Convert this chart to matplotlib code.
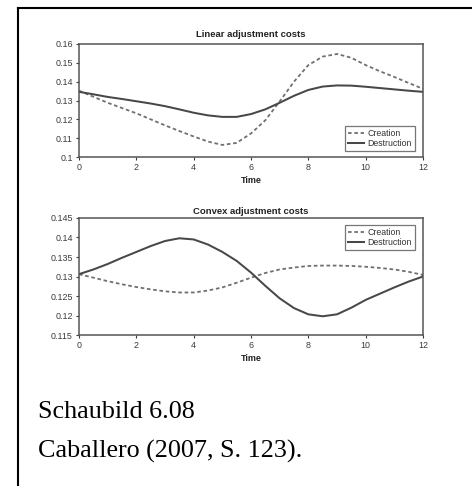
import numpy as np
import matplotlib
matplotlib.use("Agg")
import matplotlib.pyplot as plt
from matplotlib.lines import Line2D
from matplotlib.ticker import StrMethodFormatter, MultipleLocator

# time grid shared by both panels
time = np.arange(0, 12.01, 0.5)

# linear adjustment costs
lin_creation = [0.1352, 0.1320, 0.1288, 0.1260, 0.1232, 0.1200, 0.1168, 0.1138, 0.1109,
                0.1082, 0.1064, 0.1075, 0.1125, 0.1195, 0.1295, 0.1400, 0.1488, 0.1533,
                0.1547, 0.1527, 0.1488, 0.1455, 0.1425, 0.1393, 0.1362]
lin_destruction = [0.1346, 0.1333, 0.1319, 0.1308, 0.1296, 0.1284, 0.1270, 0.1253, 0.1235,
                   0.1221, 0.1213, 0.1213, 0.1228, 0.1253, 0.1288, 0.1325, 0.1356, 0.1374,
                   0.1380, 0.1379, 0.1373, 0.1366, 0.1359, 0.1352, 0.1346]

# convex adjustment costs
cvx_creation = [0.1306, 0.1297, 0.1288, 0.1280, 0.1273, 0.1267, 0.1262, 0.1259, 0.1259,
                0.1264, 0.1272, 0.1284, 0.1297, 0.1309, 0.1318, 0.1323, 0.1327, 0.1328,
                0.1328, 0.1327, 0.1325, 0.1322, 0.1318, 0.1312, 0.1304]
cvx_destruction = [0.1306, 0.1318, 0.1332, 0.1348, 0.1363, 0.1378, 0.1391, 0.1398, 0.1395,
                   0.1382, 0.1363, 0.1340, 0.1310, 0.1276, 0.1244, 0.1219, 0.1203, 0.1198,
                   0.1203, 0.1220, 0.1240, 0.1256, 0.1272, 0.1287, 0.1300]

W, H = 472, 486
fig = plt.figure(figsize=(W / 100, H / 100), dpi=100)
fig.patch.set_facecolor("white")

sans = "Liberation Sans"
ink = "#3a3a3a"


def panel(rect, title, creation, destruction, ylim, ystep, legend_loc, legend_anchor, title_pad):
    ax = fig.add_axes(rect)
    ax.plot(time, creation, color="#707070", lw=1.3, ls=(0, (2.0, 1.5)), label="Creation")
    ax.plot(time, destruction, color="#484848", lw=1.45, label="Destruction")
    ax.set_xlim(0, 12)
    ax.set_ylim(*ylim)
    ax.xaxis.set_major_locator(MultipleLocator(2))
    ax.yaxis.set_major_locator(MultipleLocator(ystep))
    ax.yaxis.set_major_formatter(StrMethodFormatter("{x:g}"))
    ax.tick_params(direction="out", length=2.5, width=0.8, colors=ink,
                   labelsize=6.4, pad=2)
    for lab in ax.get_xticklabels() + ax.get_yticklabels():
        lab.set_fontfamily(sans)
    for sp in ax.spines.values():
        sp.set_color("#555555")
        sp.set_linewidth(1.1)
    ax.set_title(title, fontsize=6.8, fontweight="bold", family=sans, color="#222222",
                 pad=title_pad)
    ax.set_xlabel("Time", fontsize=6.5, fontweight="bold", family=sans, color="#222222",
                  labelpad=3)
    leg = ax.legend(loc=legend_loc, bbox_to_anchor=legend_anchor,
                    prop={"family": sans, "size": 6.3}, frameon=True, fancybox=False,
                    handlelength=1.8, handletextpad=0.4, borderpad=0.35,
                    labelspacing=0.15, borderaxespad=0)
    leg.get_frame().set_edgecolor("#555555")
    leg.get_frame().set_linewidth(0.9)
    for t in leg.get_texts():
        t.set_color("#333333")
    return ax


panel([79 / W, 1 - 157 / H, 344 / W, 113 / H], "Linear adjustment costs",
      lin_creation, lin_destruction, (0.1, 0.16), 0.01,
      "lower right", (0.977, 0.053), 5)
panel([79 / W, 1 - 335 / H, 344 / W, 117 / H], "Convex adjustment costs",
      cvx_creation, cvx_destruction, (0.115, 0.145), 0.005,
      "upper right", (0.977, 0.94), 3)

# border of the figure box (top and left edges)
fig.add_artist(Line2D([17.5 / W, 1], [1 - 8.5 / H, 1 - 8.5 / H], color="black", lw=1.5,
                      transform=fig.transFigure))
fig.add_artist(Line2D([17.5 / W, 17.5 / W], [1 - 8.5 / H, 0], color="black", lw=1.5,
                      transform=fig.transFigure))

serif = "Liberation Serif"
fig.text(38 / W, 1 - 418 / H, "Schaubild 6.08", fontsize=18.8, family=serif,
         color="black", va="baseline")
fig.text(38 / W, 1 - 458 / H, "Caballero (2007, S. 123).", fontsize=18.8, family=serif,
         color="black", va="baseline")

fig.savefig("out.png", dpi=100, facecolor="white")
